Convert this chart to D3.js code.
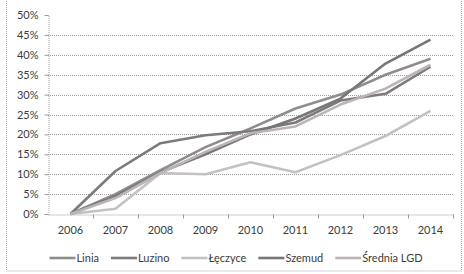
<!DOCTYPE html>
<html>
<head>
<meta charset="utf-8">
<script src="https://cdn.jsdelivr.net/npm/d3@7"></script>
<style>
  body { margin: 0; background: #fff; }
  svg { display: block; }
  text { font-family: Lato, "Open Sans", sans-serif; fill: #3c3c3c; }
</style>
</head>
<body>
<svg></svg>
<script>
const years = ['2006', '2007', '2008', '2009', '2010', '2011', '2012', '2013', '2014']
const yTicks = [0, 5, 10, 15, 20, 25, 30, 35, 40, 45, 50]
const seriesNames = ['Linia', 'Luzino', 'Łęczyce', 'Szemud', 'Średnia LGD']
const linia = [0, 5, 11, 16.8, 21.5, 26.5, 30, 35, 39]
const luzino = [0, 10.8, 17.8, 19.8, 20.8, 23, 28.5, 30.2, 37]
const leczyce = [0, 1.3, 10.3, 10, 13, 10.5, 14.8, 19.6, 25.9]
const szemud = [0, 4.5, 10.5, 15, 20, 24, 29, 37.8, 43.8]
const srednia = [0, 4, 10.3, 15.6, 20.3, 22, 27.5, 31.5, 37.5]
const seriesColors = ['#8d8d8d', '#7b7b7b', '#c2c2c2', '#767676', '#bcb3bb']

const drawChart = () => {
  const width = 464
  const height = 274
  const plotLeft = 48
  const plotRight = 453
  const plotTop = 15
  const plotBottom = 214

  const svg = d3.select('svg')
    .attr('width', width)
    .attr('height', height)

  // chart area border
  svg.append('rect')
    .attr('x', 6.5).attr('y', -2)
    .attr('width', 455).attr('height', 273)
    .attr('fill', 'none')
    .attr('stroke', '#aaa')
    .attr('stroke-dasharray', '1,1')

  const x = d3.scaleBand().domain(years).range([plotLeft, plotRight])
  const y = d3.scaleLinear().domain([0, 50]).range([plotBottom, plotTop])
  const xc = d => x(d) + x.bandwidth() / 2

  // gridlines
  svg.append('g')
    .selectAll('line')
    .data(yTicks.filter(d => d > 0 && d < 50))
    .join('line')
      .attr('x1', plotLeft).attr('x2', plotRight)
      .attr('y1', d => Math.round(y(d)) + 0.5)
      .attr('y2', d => Math.round(y(d)) + 0.5)
      .attr('stroke', '#9a9a9a')
      .attr('stroke-dasharray', '1,1')

  // y axis
  const yAxis = svg.append('g')
    .attr('transform', `translate(${plotLeft + 0.5},0)`)
    .call(d3.axisLeft(y).tickValues(yTicks).tickSize(4).tickPadding(6).tickFormat(d => d + '%'))
  yAxis.select('.domain').attr('stroke', '#9a9a9a').attr('stroke-dasharray', '1,1')
  yAxis.selectAll('.tick line').attr('stroke', '#9a9a9a')
  yAxis.selectAll('.tick text').style('font-size', '11px').attr('fill', '#3c3c3c')

  // x axis
  const xAxis = svg.append('g')
    .attr('transform', `translate(0,${plotBottom + 0.5})`)
    .call(d3.axisBottom(x).tickSize(0).tickPadding(12))
  xAxis.select('.domain').attr('stroke', '#9a9a9a').attr('stroke-dasharray', '1,1')
  xAxis.selectAll('.tick text').style('font-size', '11px').attr('fill', '#3c3c3c')
  xAxis.append('g')
    .selectAll('line')
    .data(years)
    .join('line')
      .attr('x1', d => x(d) + x.bandwidth() + 0.5)
      .attr('x2', d => x(d) + x.bandwidth() + 0.5)
      .attr('y1', 0).attr('y2', 4)
      .attr('stroke', '#9a9a9a')

  const allSeries = [linia, luzino, leczyce, szemud, srednia]
  const line = d3.line()
    .x((_, i) => xc(years[i]))
    .y(d => y(d))

  svg.append('g')
    .selectAll('path')
    .data(allSeries)
    .join('path')
      .attr('d', line)
      .attr('fill', 'none')
      .attr('stroke', (_, i) => seriesColors[i])
      .attr('stroke-width', 2.6)
      .attr('stroke-linejoin', 'round')

  // legend
  const legend = svg.append('g').attr('transform', 'translate(0,258)')
  const items = legend.selectAll('g')
    .data(seriesNames)
    .join('g')
  items.append('line')
    .attr('x1', 0).attr('x2', 26)
    .attr('y1', 0).attr('y2', 0)
    .attr('stroke', (_, i) => seriesColors[i])
    .attr('stroke-width', 2.6)
  items.append('text')
    .attr('x', 27)
    .attr('dy', '0.35em')
    .style('font-size', '11px')
    .text(d => d)

  let pos = 0
  const offsets = []
  items.each(function() {
    offsets.push(pos)
    pos += 27 + d3.select(this).select('text').node().getComputedTextLength() + 12
  })
  const total = pos - 12
  const start = 236 - total / 2
  items.attr('transform', (_, i) => `translate(${start + offsets[i]},0)`)
}

drawChart()
</script>
</body>
</html>
